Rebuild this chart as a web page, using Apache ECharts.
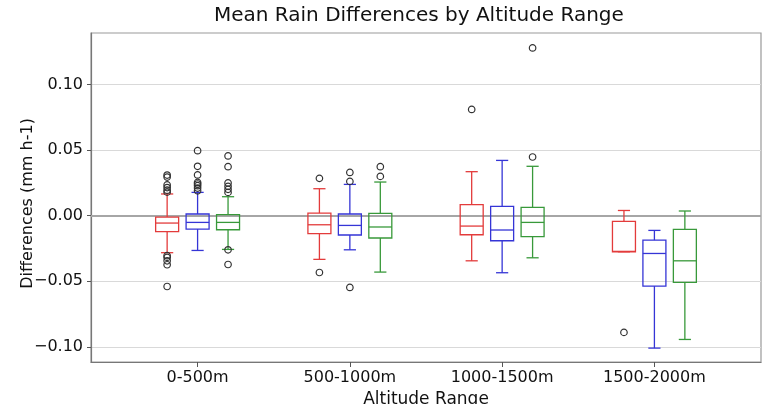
<!DOCTYPE html>
<html>
<head>
<meta charset="utf-8">
<script src="https://cdn.jsdelivr.net/npm/echarts@6/dist/echarts.min.js"></script>
<style>
    html, body { margin: 0; padding: 0; background: #fff; }
    #chart { width: 770px; height: 404px; }
</style>
</head>
<body>
<div id="chart"></div>
<script>
var categories = ['0-500m', '500-1000m', '1000-1500m', '1500-2000m'];
var yTicks = [-0.10, -0.05, 0.00, 0.05, 0.10];

// [min, Q1, median, Q3, max] per altitude range
var redBoxes = [
    [-0.0282, -0.0122, -0.0056, -0.0010, 0.0166],
    [-0.0333, -0.0137, -0.0069, 0.0020, 0.0206],
    [-0.0344, -0.0145, -0.0079, 0.0084, 0.0336],
    [-0.0275, -0.0275, -0.0272, -0.0043, 0.0040]
];
var blueBoxes = [
    [-0.0265, -0.0102, -0.0051, 0.0013, 0.0178],
    [-0.0260, -0.0147, -0.0074, 0.0013, 0.0239],
    [-0.0435, -0.0191, -0.0109, 0.0071, 0.0422],
    [-0.1010, -0.0537, -0.0288, -0.0186, -0.0112]
];
var greenBoxes = [
    [-0.0257, -0.0107, -0.0051, 0.0008, 0.0145],
    [-0.0430, -0.0170, -0.0086, 0.0018, 0.0257],
    [-0.0321, -0.0160, -0.0051, 0.0064, 0.0377],
    [-0.0944, -0.0509, -0.0344, -0.0104, 0.0036]
];

// outliers per altitude range
var redOutliers = [
    [0.0310, 0.0295, 0.0235, 0.0215, 0.0195, 0.0180, -0.0305, -0.0318, -0.0344, -0.0374, -0.0540],
    [0.0285, -0.0433],
    [0.0811],
    [-0.0890]
];
var blueOutliers = [
    [0.0496, 0.0377, 0.0311, 0.0254, 0.0242, 0.0229, 0.0211, 0.0190],
    [0.0330, 0.0262, -0.0547],
    [],
    []
];
var greenOutliers = [
    [0.0456, 0.0374, 0.0250, 0.0224, 0.0201, 0.0178, -0.0260, -0.0372],
    [0.0374, 0.0300],
    [0.1280, 0.0448],
    []
];

var groups = [
    { name: 'red', color: '#e33b3b', boxes: redBoxes, outliers: redOutliers, offset: -0.2 },
    { name: 'blue', color: '#3535d6', boxes: blueBoxes, outliers: blueOutliers, offset: 0 },
    { name: 'green', color: '#38993a', boxes: greenBoxes, outliers: greenOutliers, offset: 0.2 }
];

var font = 'DejaVu Sans';

// box + whiskers drawn in axis units
function fnBoxRender(color, offset) {
    return function (params, api) {
        var x = api.value(0) + offset;
        var hw = 0.0755, cw = 0.04;
        var lo = api.value(1), q1 = api.value(2), md = api.value(3), q3 = api.value(4), hi = api.value(5);
        var style = { stroke: color, fill: 'none', lineWidth: 1.3 };
        function p(dx, v) { return api.coord([x + dx, v]); }
        function line(a, b) {
            return { type: 'line', shape: { x1: a[0], y1: a[1], x2: b[0], y2: b[1] }, style: style };
        }
        var tl = p(-hw, q3), br = p(hw, q1);
        return {
            type: 'group',
            children: [
                line(p(0, q3), p(0, hi)),
                line(p(0, q1), p(0, lo)),
                line(p(-cw, hi), p(cw, hi)),
                line(p(-cw, lo), p(cw, lo)),
                { type: 'rect', shape: { x: tl[0], y: tl[1], width: br[0] - tl[0], height: br[1] - tl[1] }, style: style },
                line(p(-hw, md), p(hw, md))
            ]
        };
    };
}

var series = [];
groups.forEach(function (g, k) {
    series.push({
        name: g.name,
        type: 'custom',
        renderItem: fnBoxRender(g.color, g.offset),
        encode: { x: 0, y: [1, 2, 3, 4, 5] },
        data: g.boxes.map(function (b, i) { return [i].concat(b); }),
        z: 3
    });
    var pts = [];
    g.outliers.forEach(function (list, i) {
        list.forEach(function (v) { pts.push([i + g.offset, v]); });
    });
    var sc = {
        name: g.name + ' outliers',
        type: 'scatter',
        symbol: 'circle',
        symbolSize: 6.5,
        itemStyle: { color: 'rgba(0,0,0,0)', borderColor: '#333', borderWidth: 1.2, opacity: 1 },
        data: pts,
        z: 4
    };
    if (k === 0) {
        // zero reference line
        sc.markLine = {
            silent: true,
            symbol: 'none',
            label: { show: false },
            lineStyle: { color: '#a6a6a6', width: 2, type: 'solid' },
            data: [{ yAxis: 0 }],
            z: 1
        };
    }
    series.push(sc);
});

var myChart = echarts.init(document.getElementById('chart'));
var option = {
    animation: false,
    backgroundColor: '#fff',
    title: {
        text: 'Mean Rain Differences by Altitude Range',
        left: 214,
        top: 6,
        padding: 0,
        textStyle: { fontFamily: font, fontSize: 20, fontWeight: 'normal', color: '#111' }
    },
    grid: {
        left: 91, right: 9, top: 33, bottom: 42,
        show: true, borderColor: '#999', borderWidth: 1.2,
        outerBoundsMode: 'none'
    },
    xAxis: {
        type: 'value',
        min: -0.7,
        max: 3.7,
        name: 'Altitude Range',
        nameLocation: 'middle',
        nameGap: 25,
        nameTextStyle: { fontFamily: font, fontSize: 17, color: '#111' },
        axisLine: { show: true, onZero: false, lineStyle: { color: '#777', width: 1.2 } },
        axisTick: { show: true, length: 5, customValues: [0, 1, 2, 3], lineStyle: { color: '#555' } },
        axisLabel: {
            customValues: [0, 1, 2, 3],
            margin: 8,
            fontFamily: font, fontSize: 16, color: '#111',
            formatter: function (v) { return categories[Math.round(v)]; }
        },
        splitLine: { show: false }
    },
    yAxis: {
        type: 'value',
        min: -0.1116,
        max: 0.1394,
        name: 'Differences (mm h-1)',
        nameLocation: 'middle',
        nameGap: 55,
        nameMoveOverlap: false,
        nameTextStyle: { fontFamily: font, fontSize: 16, color: '#111', padding: [0, 12, 0, 0] },
        axisLine: { show: true, onZero: false, lineStyle: { color: '#777', width: 1.2 } },
        axisTick: { show: true, length: 4, customValues: yTicks, lineStyle: { color: '#555' } },
        axisLabel: {
            customValues: yTicks,
            margin: 8,
            fontFamily: font, fontSize: 16, color: '#111',
            formatter: function (v) { return (v < -1e-9 ? '\u2212' : '') + Math.abs(v).toFixed(2); }
        },
        splitLine: { show: true, lineStyle: { color: '#d9d9d9', width: 1 } }
    },
    series: series
};
myChart.setOption(option);
</script>
</body>
</html>
